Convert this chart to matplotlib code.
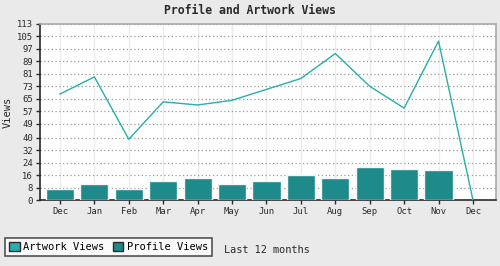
import matplotlib
matplotlib.use('Agg')
import matplotlib.pyplot as plt
from matplotlib.patches import Patch

months = ['Dec', 'Jan', 'Feb', 'Mar', 'Apr', 'May', 'Jun',
          'Jul', 'Aug', 'Sep', 'Oct', 'Nov', 'Dec']
artwork_views = [68, 79, 39, 63, 61, 64, 71, 78, 94, 73, 59, 102, 0]
profile_views = [7, 10, 7, 12, 14, 10, 12, 16, 14, 21, 20, 19]
y_ticks = [0, 8, 16, 24, 32, 40, 49, 57, 65, 73, 81, 89, 97, 105, 113]

line_col = '#26AFAC'
bar_col = '#1E8A8A'
dark = '#2a2a2a'

plt.rcParams['font.family'] = 'DejaVu Sans Mono'

fig = plt.figure(figsize=(5, 2.66), dpi=100, facecolor='#EAEAEA')
ax = fig.add_axes([0.08, 0.248, 0.912, 0.662])
ax.set_facecolor('white')

x = list(range(len(months)))
ax.bar(x[:len(profile_views)], profile_views, width=0.82, color=bar_col,
       edgecolor='#f4f4f4', linewidth=1.0, zorder=3)
ax.plot(x, artwork_views, color=line_col, linewidth=1.0, zorder=4)

ax.set_xlim(-0.58, 12.67)
ax.set_ylim(0, 113)
ax.set_yticks(y_ticks)
ax.set_xticks(x)
ax.set_xticklabels(months)
ax.tick_params(axis='both', labelsize=6.4, colors=dark, length=3, width=1, pad=2)

ax.yaxis.grid(True, linestyle=(0, (1, 2)), color='#999999', linewidth=0.9, zorder=1)
ax.xaxis.grid(True, linestyle='-', color='#ececec', linewidth=1.0, zorder=1)
ax.set_axisbelow(True)

for s in ['top', 'right']:
    ax.spines[s].set_color('#aaaaaa')
    ax.spines[s].set_linewidth(1.2)
for s in ['left', 'bottom']:
    ax.spines[s].set_color(dark)
    ax.spines[s].set_linewidth(1.2)

ax.set_ylabel('Views', fontsize=7.5, color=dark, labelpad=3)
fig.suptitle('Profile and Artwork Views', fontsize=8.3, fontweight='bold',
             color=dark, y=0.985)

handles = [Patch(facecolor=line_col, edgecolor=dark, label='Artwork Views'),
           Patch(facecolor=bar_col, edgecolor=dark, label='Profile Views')]
leg = fig.legend(handles=handles, loc='lower left', bbox_to_anchor=(0.01, 0.037),
                 ncol=2, fontsize=7.5, frameon=True, fancybox=False,
                 edgecolor=dark, facecolor='white', handlelength=1.0,
                 handleheight=1.0, handletextpad=0.35, columnspacing=0.8,
                 borderpad=0.4, borderaxespad=0)
leg.get_frame().set_linewidth(1.2)

fig.text(0.448, 0.04, 'Last 12 months', fontsize=7.4, color=dark, ha='left', va='bottom')

fig.savefig('out.png', dpi=100, facecolor=fig.get_facecolor())
